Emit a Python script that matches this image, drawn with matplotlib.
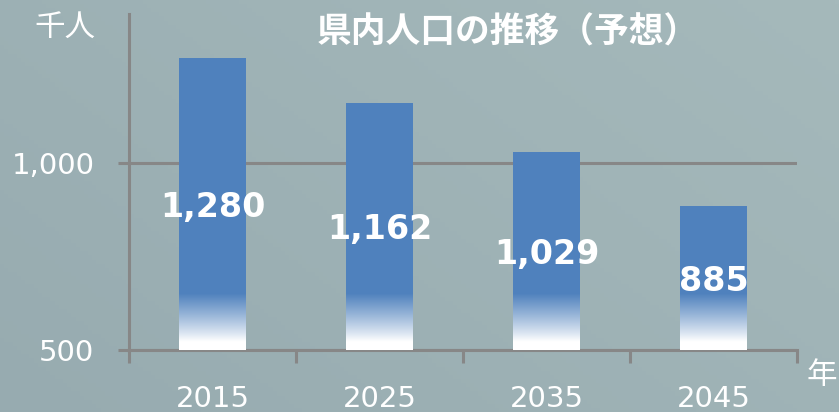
import numpy as np
import matplotlib.pyplot as plt
from matplotlib.colors import to_rgb

years = ["2015", "2025", "2035", "2045"]
population = [1280, 1162, 1029, 885]
labels = ["1,280", "1,162", "1,029", "885"]
yticks = [500, 1000]
ytick_labels = ["500", "1,000"]

plt.rcParams['font.family'] = ['Noto Sans CJK JP', 'DejaVu Sans']

fig = plt.figure(figsize=(8.39, 4.12), dpi=100)

# background gradient
bg = fig.add_axes([0, 0, 1, 1], zorder=-10)
c0 = np.array(to_rgb('#97abb0'))
c1 = np.array(to_rgb('#a5b9bb'))
gx, gy = np.meshgrid(np.linspace(0, 1, 200), np.linspace(0, 1, 100))
t = np.clip(0.6 * gx + 0.4 * gy, 0, 1)[..., None]
bg.imshow(c0 + (c1 - c0) * t, origin='lower', aspect='auto', extent=(0, 1, 0, 1))
bg.axis('off')

ax = fig.add_axes([0.1538, 0.1505, 0.7962, 0.8165])
ax.patch.set_alpha(0)

blue = '#4f81bd'
x = np.arange(len(years))
w = 0.4
ax.bar(x, [p - 500 for p in population], bottom=500, width=w, color=blue, zorder=3)

# white fade at the bottom of every bar
nb = 100
s = np.clip((np.linspace(0, 1, nb) - 0.15) / 0.85, 0, 1) ** 0.9
cb = np.array(to_rgb(blue))
grad = (np.ones(3) + (cb - np.ones(3)) * s[:, None])[:, None, :]
for xi in x:
    ax.imshow(grad, origin='lower', aspect='auto', zorder=4,
              extent=(xi - w / 2, xi + w / 2, 500, 652))

for xi, p, lab in zip(x, population, labels):
    ax.text(xi, (500 + p) / 2, lab, ha='center', va='center_baseline', color='white',
            fontsize=24, fontweight='bold', family='DejaVu Sans', zorder=5)

ax.set_xlim(-0.5, 3.5)
ax.set_ylim(500, 1400)

gray = '#878787'
for side in ['top', 'right']:
    ax.spines[side].set_visible(False)
for side in ['left', 'bottom']:
    ax.spines[side].set_color(gray)
    ax.spines[side].set_linewidth(2.2)

ax.set_yticks(yticks)
ax.set_yticklabels(ytick_labels, family='DejaVu Sans')
ax.tick_params(axis='y', length=8, width=2.2, color=gray, labelcolor='white',
               labelsize=21, pad=17)
ax.yaxis.grid(True, color=gray, linewidth=2.2, zorder=1)
ax.set_axisbelow(True)

ax.set_xticks(x)
ax.set_xticklabels(years, family='DejaVu Sans')
ax.set_xticks(np.arange(-0.5, 4.0, 1.0), minor=True)
ax.tick_params(axis='x', which='major', length=0, labelcolor='white',
               labelsize=21, pad=25)
ax.tick_params(axis='x', which='minor', length=9, width=2.2, color=gray)

fig.text(508 / 839, 1 - 32 / 412, "県内人口の推移（予想）", ha='center', va='center',
         color='white', fontsize=25, fontweight='bold')
fig.text(65 / 839, 1 - 28 / 412, "千人", ha='center', va='center',
         color='white', fontsize=22)
fig.text(822 / 839, 1 - 376 / 412, "年", ha='center', va='center',
         color='white', fontsize=22)

fig.savefig('out.png', dpi=100)
